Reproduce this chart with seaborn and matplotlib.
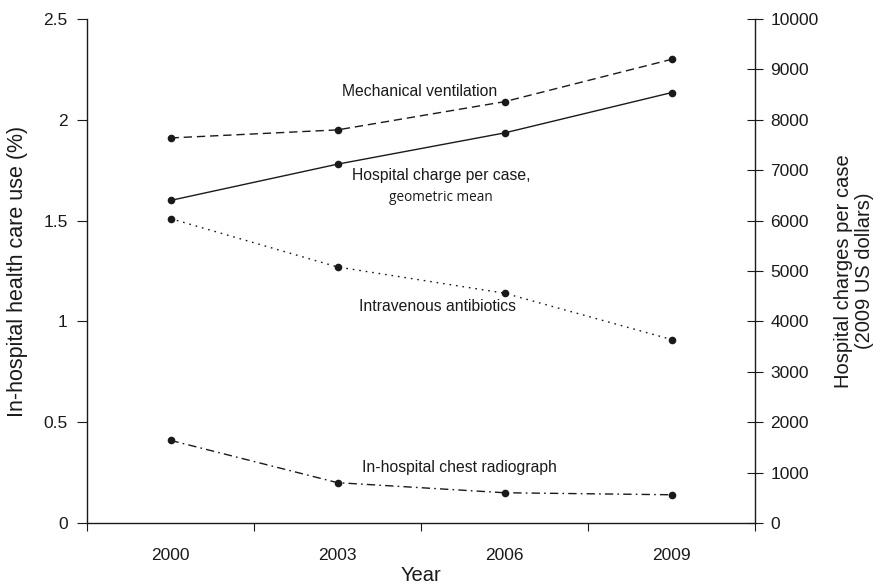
import numpy as np
import pandas as pd
import seaborn as sns
import matplotlib.pyplot as plt

# values
years = ['2000', '2003', '2006', '2009']
mech_vent = [1.91, 1.95, 2.09, 2.30]
iv_antibiotics = [1.51, 1.27, 1.14, 0.91]
chest_xray = [0.41, 0.20, 0.15, 0.14]
charge_per_case = [6400, 7120, 7740, 8540]

pos = np.arange(len(years)) + 0.5
use = pd.DataFrame({'pos': pos, 'mech': mech_vent, 'iv': iv_antibiotics, 'cxr': chest_xray})
cost = pd.DataFrame({'pos': pos, 'charge': charge_per_case})

sns.set_style('ticks')
plt.rcParams['font.family'] = ['Liberation Sans', 'DejaVu Sans']

fig = plt.figure(figsize=(8.76, 5.85), dpi=100)
ax = fig.add_axes([0.0993, 0.106, 0.7627, 0.8615])
ax2 = ax.twinx()

col = '#1a1a1a'
mk = dict(marker='o', markersize=5.5, markeredgewidth=0, color=col, linewidth=1.0)
sns.lineplot(data=use, x='pos', y='mech', ax=ax, linestyle=(0, (6, 3.5)), **mk)
sns.lineplot(data=use, x='pos', y='iv', ax=ax, linestyle=(0, (1.2, 3.5)), **mk)
sns.lineplot(data=use, x='pos', y='cxr', ax=ax, linestyle=(0, (6, 3, 1.2, 3)), **mk)
sns.lineplot(data=cost, x='pos', y='charge', ax=ax2, linestyle='-', **mk)

ax.set_xlim(0, len(years))
ax.set_ylim(0, 2.5)
ax2.set_ylim(0, 10000)
ax.set_yticks([0, 0.5, 1, 1.5, 2, 2.5])
ax.set_yticklabels(['0', '0.5', '1', '1.5', '2', '2.5'])
ax2.set_yticks(range(0, 10001, 1000))

ax.set_xticks(np.arange(len(years) + 1))
ax.set_xticklabels([])
ax.set_xticks(pos, minor=True)
ax.set_xticklabels(years, minor=True)
ax.tick_params(axis='x', which='minor', length=0, pad=18, labelsize=12.5, colors=col)
ax.tick_params(axis='x', which='major', length=6, direction='out', color=col)
ax.tick_params(axis='y', length=7, pad=7, direction='out', labelsize=12.5, color=col, labelcolor=col)
ax2.tick_params(axis='y', length=12, pad=5, direction='inout', labelsize=12.5, color=col, labelcolor=col)

for a in (ax, ax2):
    a.spines['top'].set_visible(False)
    for s in ('left', 'right', 'bottom'):
        a.spines[s].set_color(col)
        a.spines[s].set_linewidth(1.0)
ax.spines['right'].set_visible(False)
ax2.spines['left'].set_visible(False)
ax2.spines['bottom'].set_visible(False)

ax.set_xlabel('Year', fontsize=14.5, color=col, labelpad=2)
ax.set_ylabel('In-hospital health care use (%)', fontsize=15.5, color=col, labelpad=11)
ax2.set_ylabel('Hospital charges per case\n(2009 US dollars)', fontsize=14.5, color=col,
               labelpad=11, linespacing=1.15)

tk = dict(transform=ax.transData, ha='center', va='center', fontsize=11.3, color=col)
ax.text(1.99, 2.14, 'Mechanical ventilation', **tk)
ax.text(2.12, 1.726, 'Hospital charge per case,', **tk)
ax.text(2.12, 1.617, 'geometric mean', transform=ax.transData, ha='center', va='center',
        fontsize=9.8, color=col, family=['Open Sans', 'DejaVu Sans'])
ax.text(2.10, 1.076, 'Intravenous antibiotics', **tk)
ax.text(2.23, 0.273, 'In-hospital chest radiograph', **tk)

fig.savefig('out.png', dpi=100)
